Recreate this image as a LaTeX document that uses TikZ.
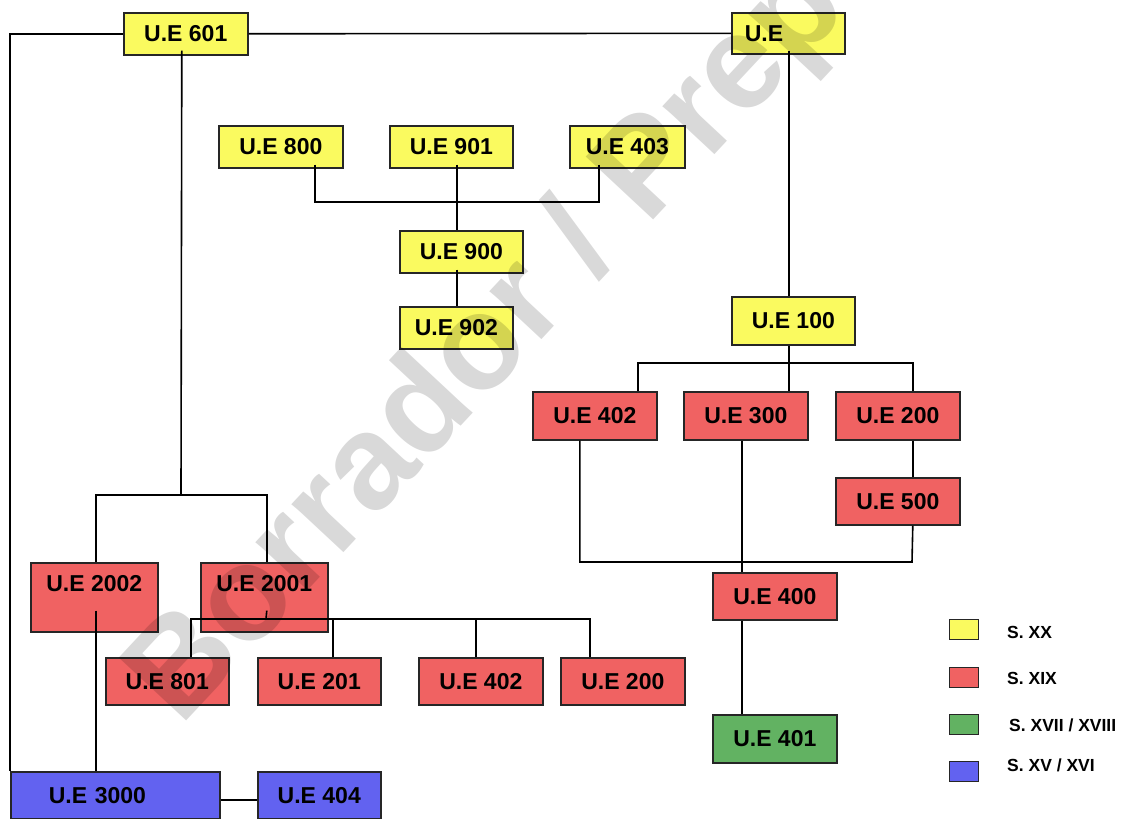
\documentclass[tikz,border=0pt]{standalone}
\usepackage{fontspec}
\setmainfont{Liberation Sans}
\definecolor{ye}{RGB}{250,250,95}
\definecolor{rd}{RGB}{240,98,98}
\definecolor{gr}{RGB}{98,178,98}
\definecolor{bl}{RGB}{98,98,240}
\tikzset{
  box/.style={draw=black!85, line width=1.6pt, inner sep=0pt, anchor=north west,
    font=\fontsize{23}{27}\selectfont\bfseries},
  conn/.style={line width=1.6pt, black},
  swatch/.style={draw=black!85, line width=1.4pt, inner sep=0pt, anchor=north west,
    minimum width=29pt, minimum height=20pt},
  legtxt/.style={anchor=west, inner sep=0pt, font=\fontsize{17.5}{20}\selectfont\bfseries},
}
\newcommand{\bx}[7]{% name, x1, y1, x2, y2, fill, text
  \pgfmathsetmacro{\bw}{#4-#2}\pgfmathsetmacro{\bh}{#5-#3}%
  \node[box, fill=#6, minimum width=\bw pt, minimum height=\bh pt] (#1) at (#2,#3) {#7};}
\begin{document}
\begin{tikzpicture}[x=1pt, y=-1pt]
\useasboundingbox (0,0) rectangle (1141,819);
\fill[white] (0,0) rectangle (1141,819);
% top
\bx{ue601}{123}{12}{247}{54}{ye}{U.E 601}
\node[box, fill=ye, minimum height=41pt, inner xsep=13pt, text width=87pt, align=left] (ue) at (731,12) {U.E};
\bx{ue800}{218}{125}{342}{167}{ye}{U.E 800}
\bx{ue901}{389}{125}{512}{167}{ye}{U.E 901}
\bx{ue403}{569}{125}{684}{167}{ye}{U.E 403}
\bx{ue900}{399}{230}{522}{272}{ye}{U.E 900}
\bx{ue902}{399}{306}{512}{348}{ye}{U.E 902}
\bx{ue100}{731}{296}{854}{344}{ye}{U.E 100}
% right red
\bx{ueA402}{532}{391}{656}{439}{rd}{U.E 402}
\bx{ue300}{683}{391}{807}{439}{rd}{U.E 300}
\bx{ueA200}{835}{391}{959}{439}{rd}{U.E 200}
\bx{ue500}{835}{477}{959}{524}{rd}{U.E 500}
\bx{ue400}{712}{572}{836}{619}{rd}{U.E 400}
\bx{ue401}{712}{714}{836}{762}{gr}{U.E 401}
% left
\node[box, fill=rd, minimum width=127pt, text height=29pt, text depth=40pt] (ue2002) at (30,562) {U.E 2002};
\node[box, fill=rd, minimum width=127pt, text height=29pt, text depth=40pt] (ue2001) at (200,562) {U.E 2001};
\bx{ue801}{105}{657}{228}{704}{rd}{U.E 801}
\bx{ue201}{257}{657}{380}{704}{rd}{U.E 201}
\bx{ueB402}{418}{657}{542}{704}{rd}{U.E 402}
\bx{ueB200}{560}{657}{684}{704}{rd}{U.E 200}
\node[box, fill=bl, minimum height=47pt, inner xsep=38pt, text width=133pt, align=left] (ue3000) at (10,771) {U.E 3000};
\bx{ue404}{257}{771}{380}{818}{bl}{U.E 404}
% legend
\node[swatch, fill=ye] (lg1) at (949,619) {};
\node[swatch, fill=rd] (lg2) at (949,667) {};
\node[swatch, fill=gr] (lg3) at (949,714) {};
\node[swatch, fill=bl] (lg4) at (949,761) {};
\node[legtxt] (lt1) at (1007,632) {S. XX};
\node[legtxt] (lt2) at (1007,678) {S. XIX};
\node[legtxt] (lt3) at (1009,725) {S. XVII / XVIII};
\node[legtxt] (lt4) at (1007,765) {S. XV / XVI};
% junctions
\coordinate (j1) at (181,495);
\coordinate (j2) at (456,202);
\coordinate (j3) at (788,363);
\coordinate (j4) at (912,562);
\coordinate (j5) at (266,619);
% connectors
\draw[conn] (ue601.west) -| (ue3000.north west);
\draw[conn] (ue601.east) -- (ue.west);
\draw[conn] ([xshift=-4pt,yshift=5pt]ue601.south) -- (j1);
\draw[conn] ([xshift=1.5pt]ue2002.north) |- (j1);
\draw[conn] ([xshift=2.5pt]ue2001.north) |- (j1);
\draw[conn] ([xshift=0.5pt,yshift=4pt]ue.south) -- ([xshift=-4.5pt]ue100.north);
\draw[conn] ([xshift=34pt,yshift=4pt]ue800.south) |- (j2);
\draw[conn] ([xshift=-28.5pt,yshift=4pt]ue403.south) |- (j2);
\draw[conn] ([xshift=5.5pt,yshift=4pt]ue901.south) -- ([xshift=-4.5pt]ue900.north);
\draw[conn] ([xshift=-4.5pt,yshift=4pt]ue900.south) -- ([xshift=0.5pt]ue902.north);
\draw[conn] ([xshift=-4.5pt]ue100.south) -- ([xshift=43pt]ue300.north);
\draw[conn] ([xshift=43pt]ueA402.north) |- (j3) -| ([xshift=15pt]ueA200.north);
\draw[conn] ([xshift=-15pt]ueA402.south) |- (j4) -- ([xshift=15pt]ue500.south);
\draw[conn] ([xshift=15pt]ueA200.south) -- ([xshift=15pt]ue500.north);
\draw[conn] ([xshift=-4pt]ue300.south) -- ([xshift=-33pt]ue400.north);
\draw[conn] ([xshift=-33pt]ue400.south) -- ([xshift=-33pt]ue401.north);
\draw[conn] ([xshift=1.5pt,yshift=22pt]ue2002.south) -- ([xshift=-19.5pt]ue3000.north);
\draw[conn] ([xshift=2.5pt,yshift=22pt]ue2001.south) -- (j5);
\draw[conn] ([xshift=23.5pt]ue801.north) |- (j5);
\draw[conn] ([xshift=13.5pt]ue201.north) |- (j5);
\draw[conn] ([xshift=-5pt]ueB402.north) |- (j5);
\draw[conn] ([xshift=-33pt]ueB200.north) |- (j5);
\draw[conn] ([yshift=-4.5pt]ue3000.east) -- ([yshift=-4.5pt]ue404.west);
% watermark
\begin{scope}
\clip (0,0) rectangle (1141,819);
\node[rotate=47, anchor=base west, inner sep=0pt, text=black, text opacity=0.15,
  font=\fontsize{134}{134}\selectfont\bfseries] (wm) at (180,728) {Borrador / Prep};
\end{scope}
\end{tikzpicture}
\end{document}
